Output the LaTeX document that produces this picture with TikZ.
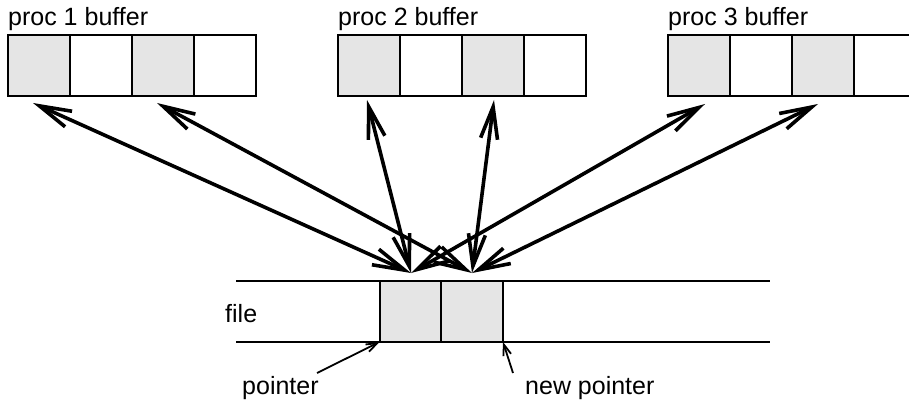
\documentclass[tikz,border=0pt]{standalone}
\usepackage{fontspec}
\setmainfont{Liberation Sans}
\usetikzlibrary{arrows.meta}
\begin{document}
\begin{tikzpicture}[x=1pt,y=-1pt,
  cell/.style={draw=black,line width=2pt,minimum width=62pt,minimum height=61pt,inner sep=0pt,outer sep=0pt},
  shaded/.style={cell,fill=black!10},
  plain/.style={cell,fill=white},
  lbl/.style={anchor=base west,inner sep=0pt,font=\fontsize{25}{29}\selectfont},
  big/.style={line width=3.6pt,{Straight Barb[length=32pt,width=17pt]}-{Straight Barb[length=32pt,width=17pt]}},
  small/.style={line width=1.8pt,-{Straight Barb[length=11pt,width=8pt]}},
  fline/.style={line width=2pt}]
\useasboundingbox (0,0) rectangle (909,401);
% buffers
\foreach \b/\x in {1/8,2/338,3/668}{
  \node[shaded] (b\b c1) at (\x+31,66) {};
  \node[plain]  (b\b c2) at (\x+93,66) {};
  \node[shaded] (b\b c3) at (\x+155,66) {};
  \node[plain]  (b\b c4) at (\x+217,66) {};
}
\node[lbl] (t1) at (8,26) {proc 1 buffer};
\node[lbl] (t2) at (338,26) {proc 2 buffer};
\node[lbl] (t3) at (668,26) {proc 3 buffer};
% file
\coordinate (ftl) at (236,281);
\coordinate (ftr) at (770,281);
\coordinate (fbl) at (236,342);
\coordinate (fbr) at (770,342);
\node[shaded] (f1) at (410.5,311.5) {};
\node[shaded] (f2) at (472,311.5) {};
\draw[fline] (ftl) -- (ftr);
\draw[fline] (fbl) -- (fbr);
\node[lbl] (tf) at (225,322) {file};
% arrow end points
\coordinate (a1) at (33,103);
\coordinate (a2) at (157,103);
\coordinate (a3) at (367,100);
\coordinate (a4) at (494,100);
\coordinate (a5) at (705,104);
\coordinate (a6) at (818,104);
\coordinate (fa) at (411,273);
\coordinate (fb) at (472,273);
\draw[big] (a1) -- (fa);
\draw[big] (a3) -- (fa);
\draw[big] (a5) -- (fa);
\draw[big] (a2) -- (fb);
\draw[big] (a4) -- (fb);
\draw[big] (a6) -- (fb);
% pointers
\node[lbl] (tp) at (242,394) {pointer};
\node[lbl] (tn) at (525,394) {new pointer};
\coordinate (ps) at (317,373);
\coordinate (ns) at (513,373);
\draw[small] (ps) -- (f1.south west);
\draw[small] (ns) -- (f2.south east);
\end{tikzpicture}
\end{document}
